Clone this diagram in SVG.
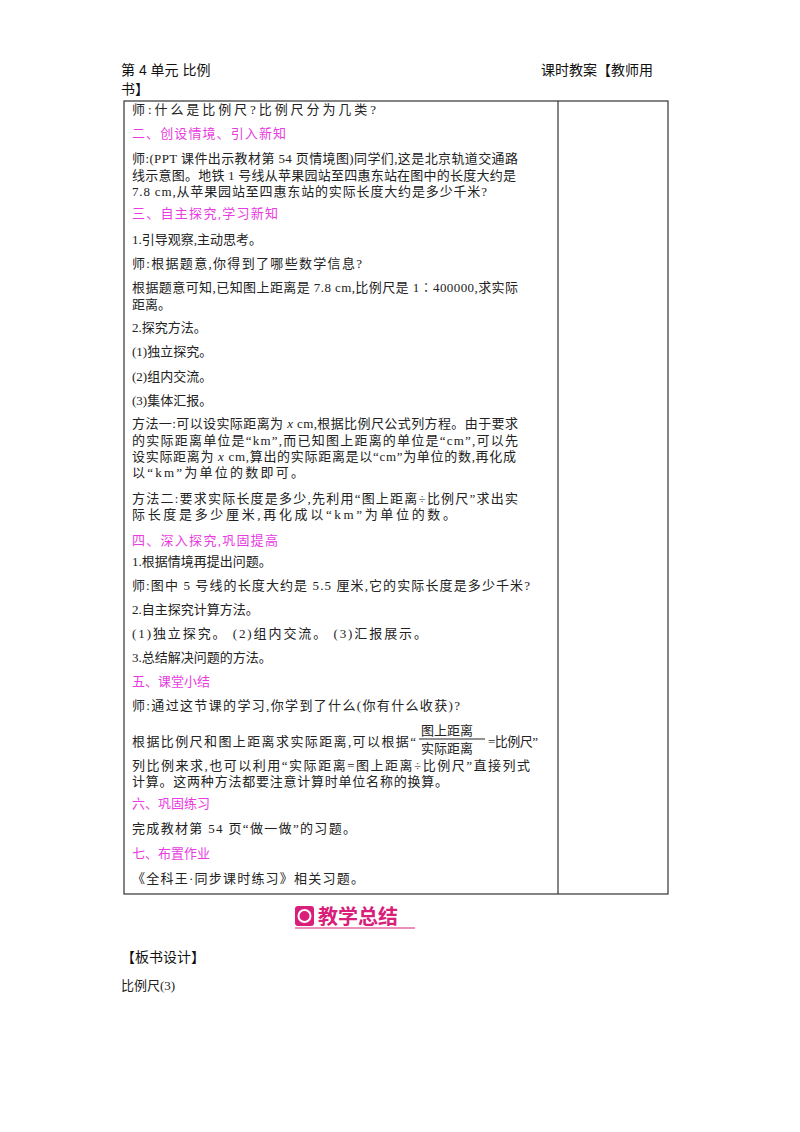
<svg xmlns="http://www.w3.org/2000/svg" width="800" height="1132" viewBox="0 0 800 1132">
<style>
text{font-family:"Liberation Serif","Noto Sans CJK SC",serif;font-size:13px;fill:#222}
.h{font-family:"Liberation Sans","Noto Sans CJK SC",sans-serif;font-size:14px;fill:#111}
.m{fill:#e83ce0}
.b{font-family:"Noto Sans CJK SC",sans-serif;font-weight:bold;font-size:20px;fill:#d8207a}
</style>
<rect width="800" height="1132" fill="#fff"/>
<g id="header">
<text class="h" x="121" y="75">第 4 单元  比例</text>
<text class="h" x="541" y="75">课时教案【教师用</text>
<text class="h" x="121" y="94">书】</text>
</g>
<g id="table" fill="none" stroke="#333" stroke-width="1.2">
<rect x="124" y="101" width="544" height="793"/>
<line x1="558" y1="101" x2="558" y2="894"/>
</g>
<g id="content">
<text x="132" y="114" textLength="244">师:什么是比例尺?比例尺分为几类?</text>
<text class="m" x="132" y="138" textLength="154">二、创设情境、引入新知</text>
<text x="132" y="163" textLength="386">师:(PPT 课件出示教材第 54 页情境图)同学们,这是北京轨道交通路</text>
<text x="132" y="180" textLength="384">线示意图。地铁 1 号线从苹果园站至四惠东站在图中的长度大约是</text>
<text x="132" y="196" textLength="355">7.8 cm,从苹果园站至四惠东站的实际长度大约是多少千米?</text>
<text class="m" x="132" y="218" textLength="146">三、自主探究,学习新知</text>
<text x="132" y="244">1.引导观察,主动思考。</text>
<text x="132" y="268" textLength="230">师:根据题意,你得到了哪些数学信息?</text>
<text x="132" y="292" textLength="386">根据题意可知,已知图上距离是 7.8 cm,比例尺是 1∶400000,求实际</text>
<text x="132" y="309">距离。</text>
<text x="132" y="332">2.探究方法。</text>
<text x="132" y="356">(1)独立探究。</text>
<text x="132" y="381">(2)组内交流。</text>
<text x="132" y="405">(3)集体汇报。</text>
<text x="132" y="428" textLength="386">方法一:可以设实际距离为 <tspan font-style="italic">x</tspan> cm,根据比例尺公式列方程。由于要求</text>
<text x="132" y="445" textLength="386">的实际距离单位是“km”,而已知图上距离的单位是“cm”,可以先</text>
<text x="132" y="461" textLength="384">设实际距离为 <tspan font-style="italic">x</tspan> cm,算出的实际距离是以“cm”为单位的数,再化成</text>
<text x="132" y="477" textLength="172">以“km”为单位的数即可。</text>
<text x="132" y="503" textLength="386">方法二:要求实际长度是多少,先利用“图上距离÷比例尺”求出实</text>
<text x="132" y="519" textLength="324">际长度是多少厘米,再化成以“km”为单位的数。</text>
<text class="m" x="132" y="545" textLength="146">四、深入探究,巩固提高</text>
<text x="132" y="566">1.根据情境再提出问题。</text>
<text x="132" y="590" textLength="398">师:图中 5 号线的长度大约是 5.5 厘米,它的实际长度是多少千米?</text>
<text x="132" y="614">2.自主探究计算方法。</text>
<text x="132" y="638" textLength="295">(1)独立探究。     (2)组内交流。     (3)汇报展示。</text>
<text x="132" y="662">3.总结解决问题的方法。</text>
<text class="m" x="132" y="686">五、课堂小结</text>
<text x="132" y="710" textLength="328">师:通过这节课的学习,你学到了什么(你有什么收获)?</text>
<text x="132" y="746" textLength="284">根据比例尺和图上距离求实际距离,可以根据“</text>
<text x="421" y="735" font-size="15">图上距离</text>
<line x1="419" y1="739" x2="485" y2="739" stroke="#222" stroke-width="1"/>
<text x="421" y="753" font-size="15">实际距离</text>
<text x="488" y="746" textLength="50">=比例尺”</text>
<text x="132" y="770" textLength="398">列比例来求,也可以利用“实际距离=图上距离÷比例尺”直接列式</text>
<text x="132" y="786" textLength="316">计算。这两种方法都要注意计算时单位名称的换算。</text>
<text class="m" x="132" y="808">六、巩固练习</text>
<text x="132" y="833" textLength="224">完成教材第 54 页“做一做”的习题。</text>
<text class="m" x="132" y="858">七、布置作业</text>
<text x="132" y="883" textLength="232">《全科王·同步课时练习》相关习题。</text>
</g>
<g id="badge">
<rect x="295" y="906" width="19" height="20" rx="3" fill="#d8207a"/>
<circle cx="304.5" cy="916" r="6" fill="none" stroke="#fff" stroke-width="2"/>
<text class="b" x="318" y="924">教学总结</text>
<line x1="295" y1="928" x2="415" y2="928" stroke="#d8207a" stroke-width="1"/>
</g>
<g id="footer">
<text class="h" x="121" y="962" font-size="13">【板书设计】</text>
<text x="121" y="990">比例尺(3)</text>
</g>
</svg>
